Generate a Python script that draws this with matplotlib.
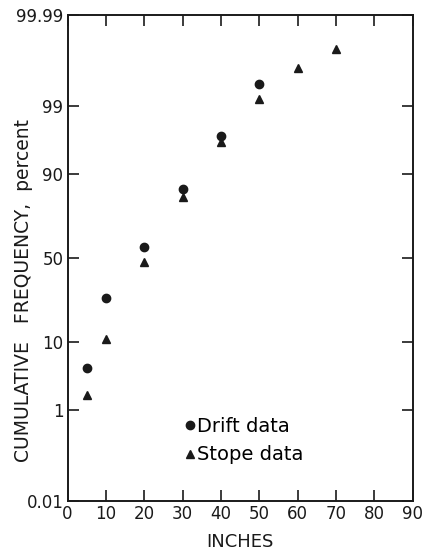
"""Cumulative frequency of drift and stope data on a probability scale."""
from statistics import NormalDist

import matplotlib
matplotlib.use("Agg")
import matplotlib.pyplot as plt
import numpy as np

# data (inches, cumulative percent)
drift_x = [5, 10, 20, 30, 40, 50]
drift_y = [4.6, 27, 57, 85.5, 96.9, 99.61]
stope_x = [5, 10, 20, 30, 40, 50, 60, 70]
stope_y = [1.8, 10.8, 47.7, 82.5, 96.2, 99.26, 99.82, 99.93]

y_ticks = [0.01, 1, 10, 50, 90, 99, 99.99]
y_labels = ["0.01", "1", "10", "50", "90", "99", "99.99"]
x_ticks = list(range(0, 100, 10))

_nd = NormalDist()
_ppf = np.vectorize(lambda v: _nd.inv_cdf(v / 100.0), otypes=[float])
_cdf = np.vectorize(lambda v: _nd.cdf(v) * 100.0, otypes=[float])


def _prob_forward(p):
    p = np.clip(np.asarray(p, dtype=float), 1e-7, 100 - 1e-7)
    return _ppf(p)


def _prob_inverse(z):
    return _cdf(np.asarray(z, dtype=float))


plt.rcParams["font.family"] = ["DejaVu Sans"]
ink = "#1a1a1a"

fig = plt.figure(figsize=(4.22, 5.52), dpi=100)
ax = fig.add_axes([0.160, 0.092, 0.818, 0.881])

ax.plot(drift_x, drift_y, "o", color=ink, ms=6, label="Drift data")
ax.plot(stope_x, stope_y, "^", color=ink, ms=6, label="Stope data")

ax.set_yscale("function", functions=(_prob_forward, _prob_inverse))
ax.set_ylim(0.01, 99.99)
ax.set_xlim(0, 90)

ax.set_yticks(y_ticks)
ax.set_yticklabels(y_labels)
ax.set_xticks(x_ticks)
ax.minorticks_off()

ax.tick_params(direction="in", length=8, width=1.2, colors=ink,
               labelsize=12, top=True, right=True, pad=3)
ax.tick_params(axis="y", labelright=False)
ax.tick_params(axis="x", labeltop=False)
for sp in ax.spines.values():
    sp.set_linewidth(1.4)
    sp.set_color(ink)

ax.set_xlabel("INCHES", fontsize=13, color=ink)
ax.xaxis.set_label_coords(0.5, -0.065)
ax.set_ylabel("CUMULATIVE   FREQUENCY,  percent", fontsize=13.5, color=ink)
ax.yaxis.set_label_coords(-0.10, 0.434)

ax.legend(loc="upper left", bbox_to_anchor=(0.315, 0.19), frameon=False,
          handlelength=0.6, handletextpad=0.05, labelspacing=0.5,
          fontsize=14, borderaxespad=0)

fig.savefig("out.png", dpi=100)
